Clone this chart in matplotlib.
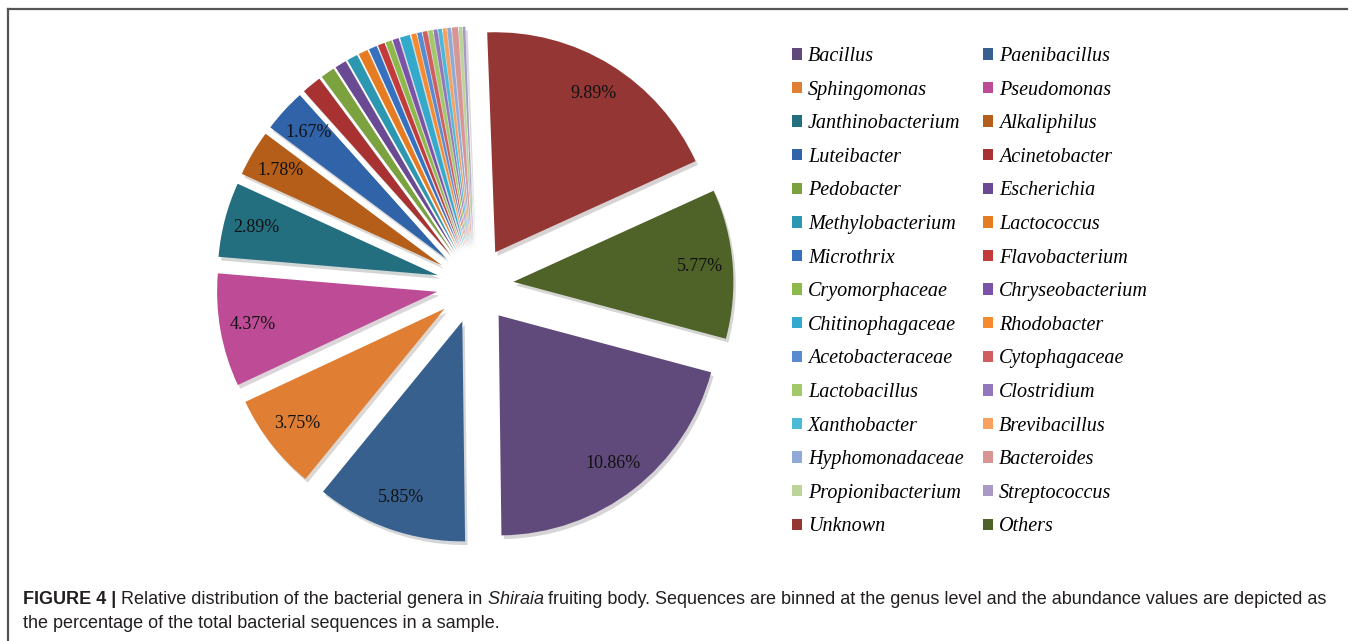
import matplotlib
matplotlib.use("Agg")
import matplotlib.pyplot as plt
from matplotlib.lines import Line2D
from matplotlib import font_manager

# genera, in the order of the pie (clockwise) and of the legend
genera = ['Bacillus', 'Paenibacillus', 'Sphingomonas', 'Pseudomonas',
          'Janthinobacterium', 'Alkaliphilus', 'Luteibacter', 'Acinetobacter',
          'Pedobacter', 'Escherichia', 'Methylobacterium', 'Lactococcus',
          'Microthrix', 'Flavobacterium', 'Cryomorphaceae', 'Chryseobacterium',
          'Chitinophagaceae', 'Rhodobacter', 'Acetobacteraceae', 'Cytophagaceae',
          'Lactobacillus', 'Clostridium', 'Xanthobacter', 'Brevibacillus',
          'Hyphomonadaceae', 'Bacteroides', 'Propionibacterium', 'Streptococcus',
          'Unknown', 'Others']

abundance = [10.86, 5.85, 3.75, 4.37,
             2.89, 1.78, 1.67, 0.76,
             0.55, 0.45, 0.42, 0.37,
             0.32, 0.27, 0.24, 0.24,
             0.39, 0.20, 0.18, 0.18,
             0.18, 0.15, 0.15, 0.15,
             0.15, 0.23, 0.13, 0.10,
             9.89, 5.77]

# which slices carry a percentage label
shown = ['Bacillus', 'Paenibacillus', 'Sphingomonas', 'Pseudomonas',
         'Janthinobacterium', 'Alkaliphilus', 'Luteibacter', 'Unknown', 'Others']

colors = ['#604A7B', '#37608F', '#E07E33', '#BE4B96',
          '#236F80', '#B45E1A', '#3163A8', '#A83131',
          '#7BA23F', '#6A4A93', '#2C97B0', '#E57C22',
          '#3671C0', '#C23A3A', '#8DB84A', '#7A52A8',
          '#33AACB', '#F68A2E', '#5A8BD0', '#D05E5E',
          '#A2C868', '#9277BC', '#4CBAD6', '#F7A060',
          '#90A9D6', '#D89594', '#BAD597', '#A899C7',
          '#943634', '#4F6228']

W, H = 1355, 641
fig = plt.figure(figsize=(W / 100, H / 100), dpi=100)

# pie axes: centre ~ (475, 285) px, radius ~ 220 px
cx, cy, rad = 475, 285, 220
half = 1.25 * rad
ax = fig.add_axes([(cx - half) / W, (H - cy - half) / H, 2 * half / W, 2 * half / H])

pct_text = iter([f'{v:.2f}%' if g in shown else '' for g, v in zip(genera, abundance)])
wedges, texts, autotexts = ax.pie(
    abundance, colors=colors, startangle=-15, counterclock=False,
    explode=[0.175] * len(abundance),
    autopct=lambda p: next(pct_text), pctdistance=0.85,
    wedgeprops=dict(linewidth=0),
    shadow={'ox': 0.008, 'oy': -0.012, 'shade': 0.7, 'alpha': 0.18},
    textprops=dict(family='Liberation Serif', fontsize=13, color='#111111'))
ax.set_xlim(-1.25, 1.25)
ax.set_ylim(-1.25, 1.25)
ax.set_aspect('equal')
ax.axis('off')

# legend, two columns filled row by row
order = list(range(0, len(genera), 2)) + list(range(1, len(genera), 2))
leg_font = font_manager.FontProperties(family='Liberation Serif', style='italic', size=14.5)
fig.legend([wedges[i] for i in order], [genera[i] for i in order], ncol=2,
           loc='upper left', bbox_to_anchor=(792 / W, 1 - 47 / H),
           frameon=False, prop=leg_font, handlelength=0.5, handleheight=0.5,
           handletextpad=0.3, columnspacing=0.95, labelspacing=0.725,
           borderpad=0, borderaxespad=0)

# frame lines (top and left)
fig.add_artist(Line2D([8 / W, 1347 / W], [1 - 9 / H, 1 - 9 / H], color='#555555', lw=1.6))
fig.add_artist(Line2D([8 / W, 8 / W], [0, 1 - 9 / H], color='#555555', lw=1.6))

# caption, written piece by piece
cap_family = ['Liberation Sans Narrow', 'Liberation Sans', 'DejaVu Sans']
cap_size = 13
renderer = fig.canvas.get_renderer()

def put(x, y, s, **kw):
    t = fig.text(x / W, 1 - y / H, s, fontsize=cap_size, family=cap_family,
                 color='#231F20', va='center', ha='left', **kw)
    bb = t.get_window_extent(renderer)
    return x + bb.width

x = put(23, 599, 'FIGURE 4 | ', weight='bold')
x = put(x, 599, 'Relative distribution of the bacterial genera in ')
x = put(x, 599, 'Shiraia ', style='italic')
put(x, 599, 'fruiting body. Sequences are binned at the genus level and the '
            'abundance values are depicted as')
put(23, 624, 'the percentage of the total bacterial sequences in a sample.')

fig.savefig('out.png', dpi=100)
